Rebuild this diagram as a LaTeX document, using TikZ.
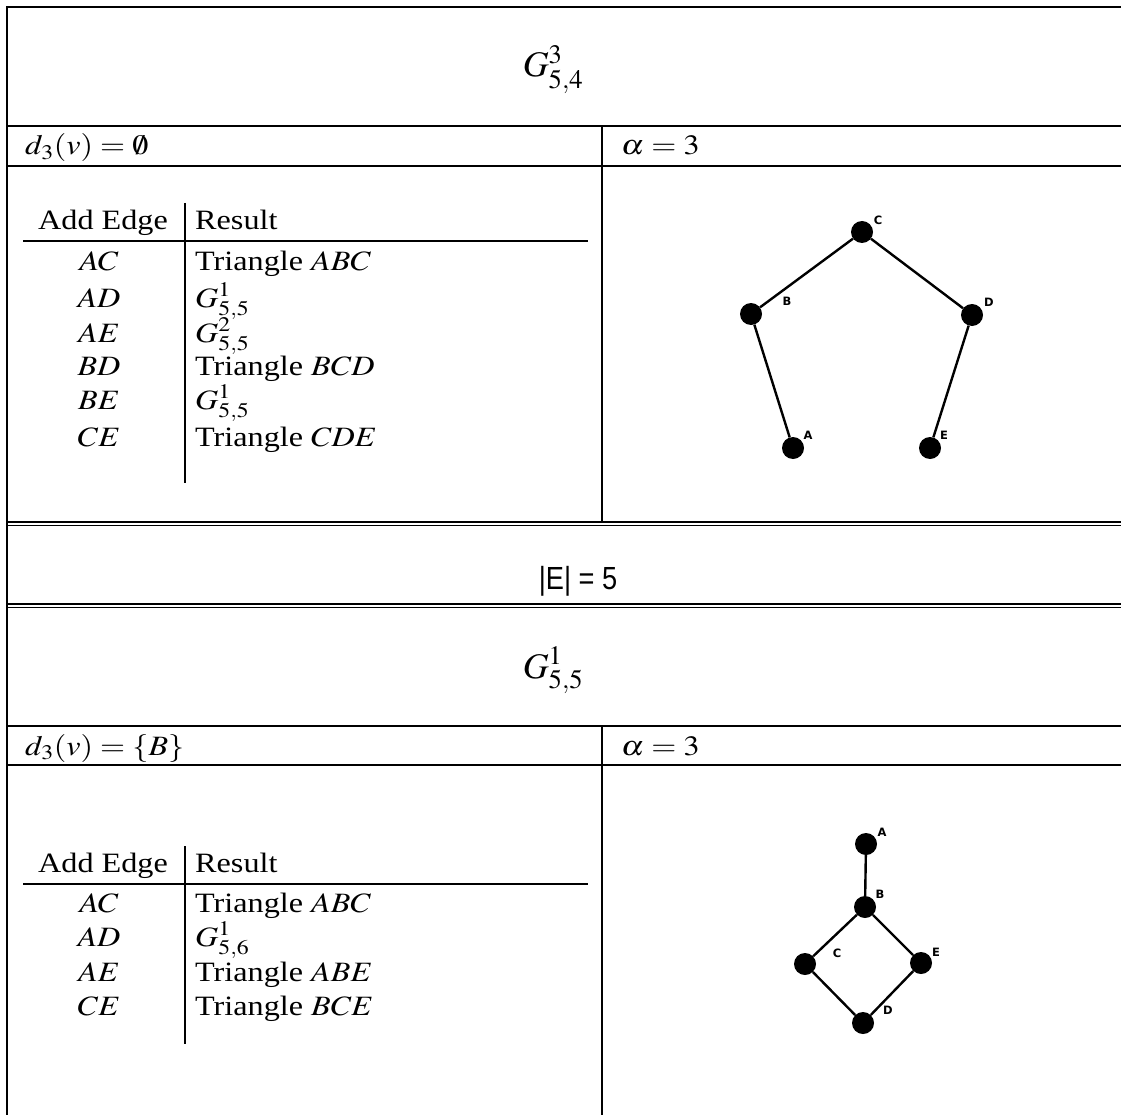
\documentclass[tikz,border=0pt]{standalone}
\usepackage{mathptmx}
\usepackage{fontspec}
\setmainfont{Liberation Serif}
\newfontfamily\labelfont{DejaVu Sans}
\newfontfamily\sansE{Liberation Sans}
\usepackage{graphicx}
\newcommand{\stretchx}[1]{\scalebox{1.15}[1]{#1}}
\tikzset{
  frame/.style={line width=1.2pt, black},
  txt/.style={font=\fontsize{28}{33}\selectfont, inner sep=0pt},
  ttl/.style={font=\fontsize{36}{42}\selectfont, inner sep=0pt},
  vtx/.style={circle, fill=black, minimum size=22pt, inner sep=0pt},
  vlab/.style={font=\labelfont\bfseries\fontsize{11.5}{13}\selectfont, inner sep=0pt},
  gedge/.style={line width=2.4pt, black}
}
\begin{document}
\begin{tikzpicture}[x=1pt,y=-1pt]
\useasboundingbox (0,0) rectangle (1121,1115);
% ---------- frame ----------
\draw[frame] (7,1115) -- (7,7) -- (1121,7);
\draw[frame] (7,126) -- (1121,126);
\draw[frame] (7,166) -- (1121,166);
\draw[frame] (602,126) -- (602,522);
\draw[frame] (7,522) -- (1121,522);
\draw[frame] (7,525.5) -- (1121,525.5);
\draw[frame] (7,604) -- (1121,604);
\draw[frame] (7,607.5) -- (1121,607.5);
\draw[frame] (7,726) -- (1121,726);
\draw[frame] (7,765) -- (1121,765);
\draw[frame] (602,726) -- (602,1115);
% ---------- top section ----------
\node[ttl, anchor=base] (t1) at (553,77) {$G^3_{5,4}$};
\node[txt, anchor=base west] (d1) at (25,155) {\stretchx{$d_3(v)=\emptyset$}};
\node[txt, anchor=base west] (al1) at (621,155) {\stretchx{$\alpha=3$}};
\node[txt, anchor=base] (h1) at (103,230) {\stretchx{Add Edge}};
\node[txt, anchor=base west] (r1) at (195,230) {\stretchx{Result}};
\coordinate (ru1a) at (23,241); \coordinate (ru1b) at (588,241);
\coordinate (vl1a) at (185,203); \coordinate (vl1b) at (185,483);
\draw[frame] (ru1a) -- (ru1b);
\draw[frame] (vl1a) -- (vl1b);
\node[txt, anchor=base] (e11) at (99,271) {\stretchx{$AC$}};
\node[txt, anchor=base west] (s11) at (195,271) {\stretchx{Triangle $ABC$}};
\node[txt, anchor=base] (e12) at (99,307) {\stretchx{$AD$}};
\node[txt, anchor=base west] (s12) at (195,307) {\stretchx{$G^1_{5,5}$}};
\node[txt, anchor=base] (e13) at (99,342) {\stretchx{$AE$}};
\node[txt, anchor=base west] (s13) at (195,342) {\stretchx{$G^2_{5,5}$}};
\node[txt, anchor=base] (e14) at (99,375) {\stretchx{$BD$}};
\node[txt, anchor=base west] (s14) at (195,375) {\stretchx{Triangle $BCD$}};
\node[txt, anchor=base] (e15) at (99,409) {\stretchx{$BE$}};
\node[txt, anchor=base west] (s15) at (195,409) {\stretchx{$G^1_{5,5}$}};
\node[txt, anchor=base] (e16) at (99,446) {\stretchx{$CE$}};
\node[txt, anchor=base west] (s16) at (195,446) {\stretchx{Triangle $CDE$}};
% graph 1
\node[vtx] (gA) at (793,448) {};
\node[vtx] (gB) at (751,314) {};
\node[vtx] (gC) at (862,232) {};
\node[vtx] (gD) at (972,315) {};
\node[vtx] (gE) at (930,448) {};
\draw[gedge] (gA) -- (gB);
\draw[gedge] (gB) -- (gC);
\draw[gedge] (gC) -- (gD);
\draw[gedge] (gD) -- (gE);
\node[vlab] (lA) at (808,435) {A};
\node[vlab] (lB) at (787,301) {B};
\node[vlab] (lC) at (878,220) {C};
\node[vlab] (lD) at (989,302) {D};
\node[vlab] (lE) at (944,435) {E};
% ---------- middle ----------
\node[font=\sansE\fontsize{32}{36}\selectfont, inner sep=0pt] (ecount) at (578,581) {\scalebox{0.85}[1]{|E| = 5}};
% ---------- bottom section ----------
\node[ttl, anchor=base] (t2) at (553,678) {$G^1_{5,5}$};
\node[txt, anchor=base west] (d2) at (25,755) {\stretchx{$d_3(v)=\{B\}$}};
\node[txt, anchor=base west] (al2) at (621,755) {\stretchx{$\alpha=3$}};
\node[txt, anchor=base] (h2) at (103,872) {\stretchx{Add Edge}};
\node[txt, anchor=base west] (r2) at (195,872) {\stretchx{Result}};
\coordinate (ru2a) at (23,884); \coordinate (ru2b) at (588,884);
\coordinate (vl2a) at (185,846); \coordinate (vl2b) at (185,1044);
\draw[frame] (ru2a) -- (ru2b);
\draw[frame] (vl2a) -- (vl2b);
\node[txt, anchor=base] (e21) at (99,912) {\stretchx{$AC$}};
\node[txt, anchor=base west] (s21) at (195,912) {\stretchx{Triangle $ABC$}};
\node[txt, anchor=base] (e22) at (99,946) {\stretchx{$AD$}};
\node[txt, anchor=base west] (s22) at (195,946) {\stretchx{$G^1_{5,6}$}};
\node[txt, anchor=base] (e23) at (99,981) {\stretchx{$AE$}};
\node[txt, anchor=base west] (s23) at (195,981) {\stretchx{Triangle $ABE$}};
\node[txt, anchor=base] (e24) at (99,1015) {\stretchx{$CE$}};
\node[txt, anchor=base west] (s24) at (195,1015) {\stretchx{Triangle $BCE$}};
% graph 2
\node[vtx] (hA) at (866,844) {};
\node[vtx] (hB) at (865,907) {};
\node[vtx] (hC) at (805,964) {};
\node[vtx] (hD) at (863,1023) {};
\node[vtx] (hE) at (921,963) {};
\draw[gedge] (hA) -- (hB);
\draw[gedge] (hB) -- (hC);
\draw[gedge] (hB) -- (hE);
\draw[gedge] (hC) -- (hD);
\draw[gedge] (hE) -- (hD);
\node[vlab] (mA) at (882,832) {A};
\node[vlab] (mB) at (880,894) {B};
\node[vlab] (mC) at (837,953) {C};
\node[vlab] (mD) at (888,1010) {D};
\node[vlab] (mE) at (936,952) {E};
\end{tikzpicture}
\end{document}
